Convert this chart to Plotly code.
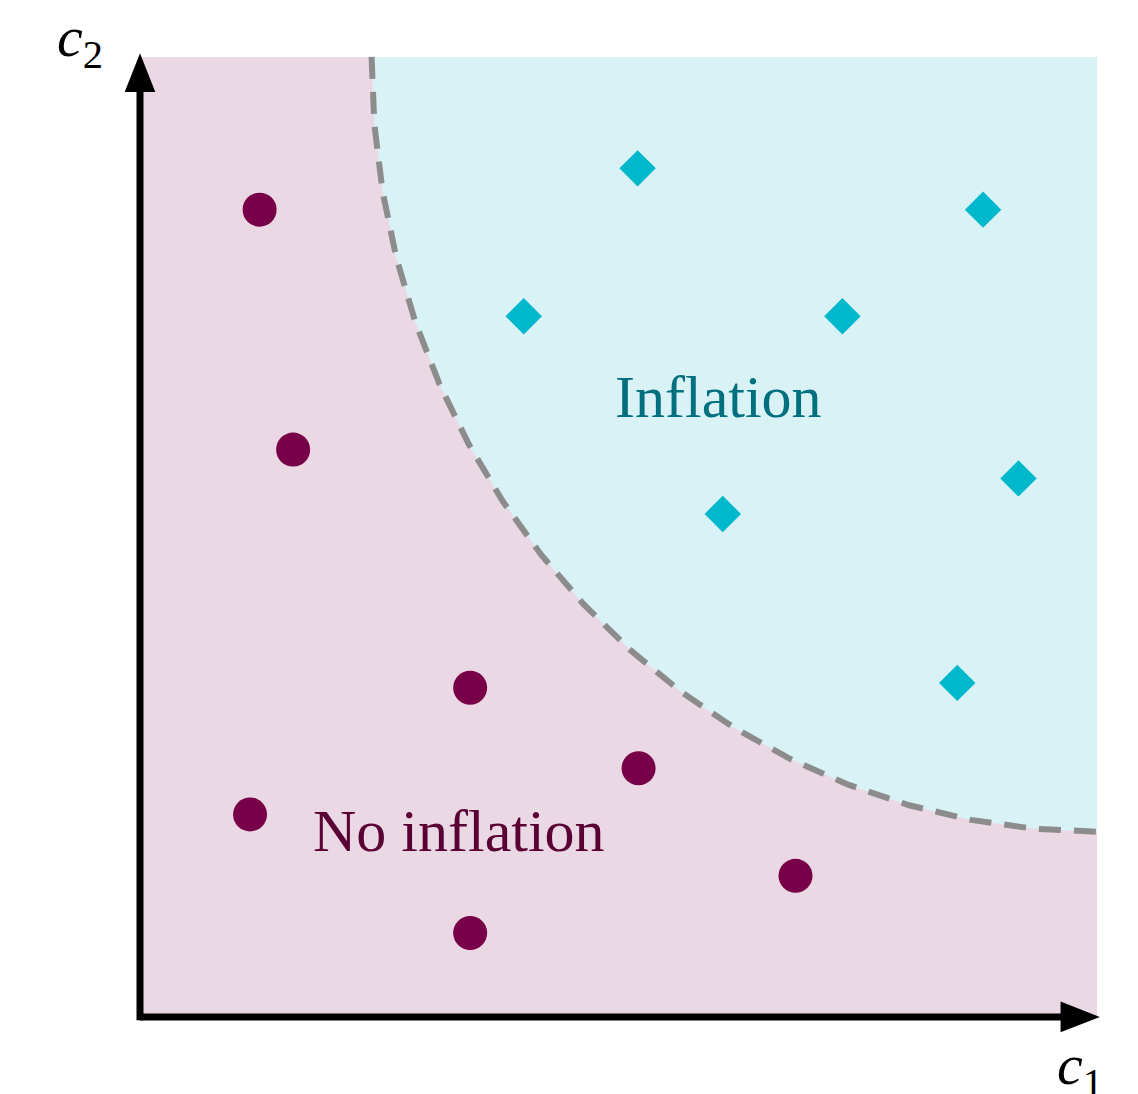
import plotly.graph_objects as go

# --- data ---
no_infl_x = [1.25, 1.60, 3.45, 1.15, 5.21, 3.45, 6.85]
no_infl_y = [8.41, 5.91, 3.43, 2.11, 2.59, 0.875, 1.47]
infl_x = [5.20, 8.81, 4.01, 7.34, 9.18, 6.09, 8.54]
infl_y = [8.84, 8.41, 7.30, 7.30, 5.61, 5.24, 3.48]
boundary_x = [2.42, 2.449, 2.535, 2.678, 2.877, 3.130, 3.436, 3.791, 4.194, 4.640,
              5.128, 5.652, 6.21, 6.797, 7.408, 8.038, 8.684, 9.339, 10.0]
boundary_y = [10.0, 9.296, 8.599, 7.911, 7.240, 6.590, 5.965, 5.371, 4.813, 4.294,
              3.818, 3.389, 3.011, 2.686, 2.417, 2.205, 2.053, 1.961, 1.93]
region_labels = ["Inflation", "No inflation"]
axis_labels = ["<i>c</i><sub>1</sub>", "<i>c</i><sub>2</sub>"]

PINK = "#EAD9E4"
CYAN = "#D8F2F6"
PURPLE = "#780048"
TEAL_MARK = "#00B8CC"
SERIF = "Liberation Serif, DejaVu Serif, serif"

fig = go.Figure()

# cyan region above the boundary
fig.add_trace(go.Scatter(
    x=boundary_x + [10.0, boundary_x[0]],
    y=boundary_y + [10.0, 10.0],
    fill="toself", fillcolor=CYAN, mode="none", hoverinfo="skip", showlegend=False))

# dashed boundary
fig.add_trace(go.Scatter(
    x=boundary_x, y=boundary_y, mode="lines",
    line=dict(color="#8C8C8C", width=6, dash="22px,13px"),
    hoverinfo="skip", showlegend=False))

fig.add_trace(go.Scatter(
    x=no_infl_x, y=no_infl_y, mode="markers",
    marker=dict(symbol="circle", size=34, color=PURPLE, line=dict(width=0)),
    showlegend=False))
fig.add_trace(go.Scatter(
    x=infl_x, y=infl_y, mode="markers",
    marker=dict(symbol="diamond", size=28, color=TEAL_MARK, line=dict(width=0)),
    showlegend=False))

shapes = [
    # pink background region
    dict(type="rect", xref="x", yref="y", x0=0, x1=10, y0=0, y1=10,
         fillcolor=PINK, line=dict(width=0), layer="below"),
    # axes lines
    dict(type="line", xref="x", yref="y", x0=0, y0=0, x1=9.7, y1=0,
         line=dict(color="black", width=7)),
    dict(type="line", xref="x", yref="y", x0=0, y0=-0.035, x1=0, y1=9.7,
         line=dict(color="black", width=7)),
    # arrow heads
    dict(type="path", xref="x", yref="y",
         path="M 10.03 0 L 9.62 0.16 L 9.62 -0.16 Z",
         fillcolor="black", line=dict(width=0)),
    dict(type="path", xref="x", yref="y",
         path="M 0 10.04 L -0.16 9.635 L 0.16 9.635 Z",
         fillcolor="black", line=dict(width=0)),
]

annotations = [
    dict(x=6.04, y=6.46, xref="x", yref="y", text=region_labels[0], showarrow=False,
         xanchor="center", yanchor="middle",
         font=dict(family=SERIF, size=60, color="#00707F")),
    dict(x=3.33, y=1.94, xref="x", yref="y", text=region_labels[1], showarrow=False,
         xanchor="center", yanchor="middle",
         font=dict(family=SERIF, size=60, color="#5A0035")),
    dict(x=0.962, y=-0.028, xref="paper", yref="paper", text=axis_labels[0], showarrow=False,
         xanchor="center", yanchor="middle",
         font=dict(family=SERIF, size=58, color="black")),
    dict(x=-0.040, y=1.000, xref="paper", yref="paper", text=axis_labels[1], showarrow=False,
         xanchor="center", yanchor="middle",
         font=dict(family=SERIF, size=58, color="black")),
]

fig.update_layout(
    width=1138, height=1094,
    margin=dict(l=112, r=28, t=32, b=62),
    paper_bgcolor="white", plot_bgcolor="white",
    xaxis=dict(range=[-0.209, 10.22], visible=False, fixedrange=True),
    yaxis=dict(range=[-0.240, 10.177], visible=False, fixedrange=True),
    shapes=shapes, annotations=annotations, showlegend=False,
)

fig.write_html("out.html")
